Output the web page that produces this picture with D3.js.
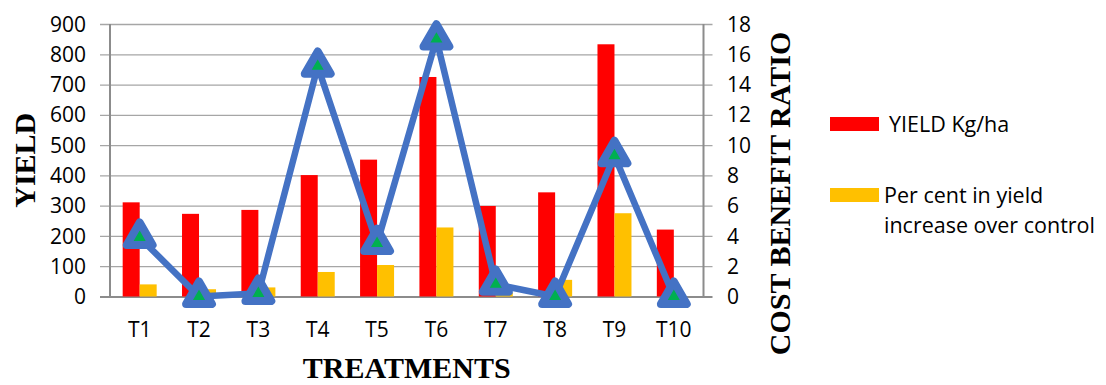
<!DOCTYPE html>
<html><head><meta charset="utf-8">
<script src="https://cdn.jsdelivr.net/npm/d3@7"></script>
<style>body{margin:0;background:#fff}svg{display:block}</style>
</head><body><svg id="c" width="1106" height="385"></svg>
<script>
const categories = ["T1","T2","T3","T4","T5","T6","T7","T8","T9","T10"];
const yieldKg = [311, 273, 286, 401, 452, 725, 299, 344, 833, 221];
const perCent = [40, 24, 30, 81, 104, 228, 12, 55, 275, 0];
const costBenefit = [3.9, 0, 0.2, 15.2, 3.5, 17.0, 0.8, 0, 9.3, 0];
const leftTicks = [0,100,200,300,400,500,600,700,800,900];
const rightTicks = [0,2,4,6,8,10,12,14,16,18];

const svg = d3.select("#c");
const L = 110, R = 703.5, T = 24, B = 296.5;
const x = d3.scaleBand().domain(categories).range([L, R]);
const yL = d3.scaleLinear().domain([0, 900]).range([B, T]);
const yR = d3.scaleLinear().domain([0, 18]).range([B, T]);
const tickFont = "'Open Sans', sans-serif";

// gridlines
svg.append("g").selectAll("line").data(leftTicks).join("line")
  .attr("x1", L - 10).attr("x2", R + 9)
  .attr("y1", d => yL(d) + 0.5).attr("y2", d => yL(d) + 0.5)
  .attr("stroke", d => d === 0 ? "#8c8c8c" : "#a6a6a6").attr("stroke-width", d => d === 0 ? 2 : 1.3);

// axes lines
svg.append("line").attr("x1", L).attr("x2", L).attr("y1", T).attr("y2", B)
  .attr("stroke", "#8c8c8c").attr("stroke-width", 2);
svg.append("line").attr("x1", R).attr("x2", R).attr("y1", T).attr("y2", B)
  .attr("stroke", "#8c8c8c").attr("stroke-width", 2);

// tick labels
svg.append("g").selectAll("text").data(leftTicks).join("text")
  .attr("x", 86).attr("y", d => yL(d)).attr("dy", "0.36em")
  .attr("text-anchor", "end").attr("font-family", tickFont).attr("font-size", 21)
  .attr("fill", "#000").text(d => d);
svg.append("g").selectAll("text").data(rightTicks).join("text")
  .attr("x", 727).attr("y", d => yR(d)).attr("dy", "0.36em")
  .attr("text-anchor", "start").attr("font-family", tickFont).attr("font-size", 21)
  .attr("fill", "#000").text(d => d);
svg.append("g").selectAll("text").data(categories).join("text")
  .attr("x", d => x(d) + x.bandwidth() / 2).attr("y", 337)
  .attr("text-anchor", "middle").attr("font-family", tickFont).attr("font-size", 21)
  .attr("fill", "#000").text(d => d);

// bars
const bw = 17;
svg.append("g").selectAll("rect").data(categories).join("rect")
  .attr("x", d => x(d) + x.bandwidth() / 2 - bw).attr("width", bw)
  .attr("y", (d, i) => yL(yieldKg[i])).attr("height", (d, i) => B - yL(yieldKg[i]))
  .attr("fill", "#ff0000");
svg.append("g").selectAll("rect").data(categories).join("rect")
  .attr("x", d => x(d) + x.bandwidth() / 2).attr("width", bw)
  .attr("y", (d, i) => yL(perCent[i])).attr("height", (d, i) => B - yL(perCent[i]))
  .attr("fill", "#ffc000");

// line
const line = d3.line().x((d, i) => x(categories[i]) + x.bandwidth() / 2).y(d => yR(d));
svg.append("path").datum(costBenefit).attr("d", line)
  .attr("fill", "none").attr("stroke", "#4472c4").attr("stroke-width", 6.5)
  .attr("stroke-linejoin", "round");
const tri = d3.symbol().type(d3.symbolTriangle).size(290);
svg.append("g").selectAll("path").data(costBenefit).join("path")
  .attr("transform", (d, i) => `translate(${x(categories[i]) + x.bandwidth() / 2},${yR(d)})`)
  .attr("d", tri).attr("fill", "#00b050").attr("stroke", "#4472c4")
  .attr("stroke-width", 8).attr("stroke-linejoin", "round");

// axis titles
const titleFont = "'Liberation Serif', 'Times New Roman', serif";
svg.append("text").attr("transform", `translate(35,${(T + B) / 2}) rotate(-90)`)
  .attr("text-anchor", "middle").attr("font-family", titleFont).attr("font-weight", "bold")
  .attr("font-size", 30).text("YIELD");
svg.append("text").attr("transform", `translate(790,193.5) rotate(-90)`)
  .attr("text-anchor", "middle").attr("font-family", titleFont).attr("font-weight", "bold")
  .attr("font-size", 30).text("COST BENEFIT RATIO");
svg.append("text").attr("x", (L + R) / 2).attr("y", 378)
  .attr("text-anchor", "middle").attr("font-family", titleFont).attr("font-weight", "bold")
  .attr("font-size", 30).text("TREATMENTS");

// legend
const leg = svg.append("g");
leg.append("rect").attr("x", 830).attr("y", 117).attr("width", 49).attr("height", 14).attr("fill", "#ff0000");
leg.append("text").attr("x", 889).attr("y", 132).attr("font-family", tickFont).attr("font-size", 21.5).text("YIELD Kg/ha");
leg.append("rect").attr("x", 830).attr("y", 188).attr("width", 49).attr("height", 14).attr("fill", "#ffc000");
leg.append("text").attr("x", 884).attr("y", 203).attr("font-family", tickFont).attr("font-size", 21.5).text("Per cent in yield");
leg.append("text").attr("x", 884).attr("y", 233).attr("font-family", tickFont).attr("font-size", 21.5).text("increase over control");
</script></body></html>
